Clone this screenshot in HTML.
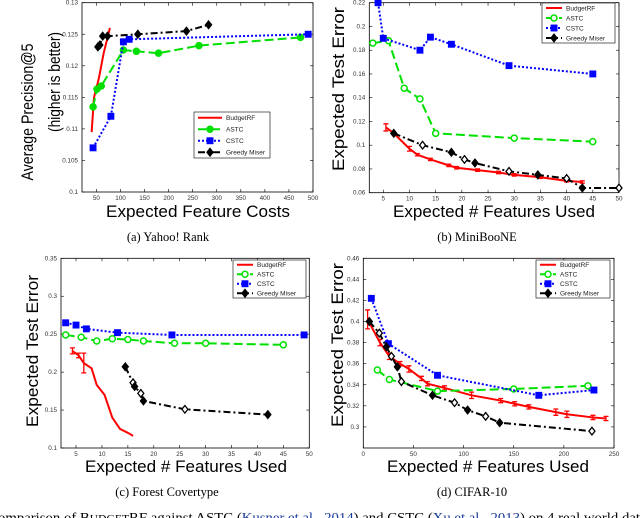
<!DOCTYPE html>
<html><head><meta charset="utf-8"><style>
html,body{margin:0;padding:0;background:#fff;overflow:hidden}
svg{display:block}
</style></head><body>
<svg id="fig" width="640" height="518" viewBox="0 0 640 518" xmlns="http://www.w3.org/2000/svg">
<g id="root"></g>
<text x="-2" y="522" font-family="Liberation Serif, serif" font-size="14" textLength="642" lengthAdjust="spacingAndGlyphs">omparison of B<tspan font-size="11">UDGET</tspan>RF against ASTC (<tspan fill="#1a3a9a">Kusner et al., 2014</tspan>) and CSTC (<tspan fill="#1a3a9a">Xu et al., 2013</tspan>) on 4 real world dat</text>
</svg>
<script>
// ---- (a) Yahoo! Rank ----
const aXTicks=[50,100,150,200,250,300,350,400,450,500];
const aYTicks=[0.1,0.105,0.11,0.115,0.12,0.125,0.13];
const aYLabels=["0.1","0.105","0.11","0.115","0.12","0.125","0.13"];
const aRedX=[40,45,55,65,78];
const aRedY=[0.1095,0.115,0.118,0.122,0.126];
const aGreenX=[43,51,60,106,133,179,263,474];
const aGreenY=[0.1135,0.1163,0.1168,0.1225,0.1223,0.122,0.1232,0.1245];
const aBlueX=[43,80,106,118,490];
const aBlueY=[0.107,0.112,0.1238,0.1242,0.125];
const aBlackX=[53,57,63,73,136,237,283];
const aBlackY=[0.123,0.1233,0.1247,0.1247,0.125,0.1255,0.1265];
// ---- (b) MiniBooNE ----
const bXTicks=[5,10,15,20,25,30,35,40,45,50];
const bYTicks=[0.06,0.08,0.1,0.12,0.14,0.16,0.18,0.2,0.22];
const bYLabels=["0.06","0.08","0.1","0.12","0.14","0.16","0.18","0.2","0.22"];
const bRedX=[5.5,7,10,11.5,14,17.5,19,23,27,30,35,40,43];
const bRedY=[0.115,0.11,0.097,0.092,0.088,0.083,0.081,0.079,0.077,0.075,0.073,0.070,0.069];
const bRedErr=[0.003,0.001,0.002,0.001,0.001,0.001,0.001,0.001,0.001,0.001,0.001,0.001,0.001];
const bGreenX=[3,6,9,12,15,30,45];
const bGreenY=[0.186,0.188,0.148,0.139,0.110,0.106,0.103];
const bBlueX=[4,5,12,14,18,29,45];
const bBlueY=[0.22,0.19,0.18,0.191,0.185,0.167,0.160];
const bBlackX=[7,12.5,18,20.5,22.5,29,34.5,40,43,50];
const bBlackY=[0.11,0.10,0.094,0.088,0.085,0.078,0.075,0.072,0.064,0.064];
// ---- (c) Forest Covertype ----
const cXTicks=[5,10,15,20,25,30,35,40,45,50];
const cYTicks=[0.1,0.15,0.2,0.25,0.3,0.35];
const cYLabels=["0.1","0.15","0.2","0.25","0.3","0.35"];
const cRedX=[4.3,5.5,6.5,8,9,10.5,12,13.5,15,16];
const cRedY=[0.228,0.222,0.212,0.205,0.183,0.17,0.14,0.125,0.12,0.116];
const cRedErr=[0.004,0.003,0.013,0,0,0,0,0,0,0];
const cGreenX=[3,6,9,12,15,18,24,30,45];
const cGreenY=[0.249,0.246,0.241,0.244,0.243,0.241,0.238,0.238,0.236];
const cBlueX=[3,5,7,13,23.5,49];
const cBlueY=[0.265,0.262,0.257,0.252,0.249,0.249];
const cBlackX=[14.5,16,16.3,17.5,18,26,42];
const cBlackY=[0.207,0.186,0.181,0.172,0.162,0.151,0.144];
// ---- (d) CIFAR-10 ----
const dXTicks=[0,50,100,150,200,250];
const dYTicks=[0.3,0.32,0.34,0.36,0.38,0.4,0.42,0.44,0.46];
const dYLabels=["0.3","0.32","0.34","0.36","0.38","0.4","0.42","0.44","0.46"];
const dRedX=[4.3,16.6,26,36.6,45.5,58,64,81,108,137,151,165,192,203,229,242];
const dRedY=[0.402,0.38,0.367,0.36,0.355,0.346,0.341,0.337,0.330,0.325,0.322,0.319,0.314,0.312,0.309,0.308];
const dRedErr=[0.009,0.003,0.003,0.002,0.003,0.002,0.002,0.002,0.003,0.002,0.002,0.002,0.003,0.003,0.002,0.002];
const dGreenX=[14,26,74,150,224];
const dGreenY=[0.354,0.345,0.334,0.336,0.339];
const dBlueX=[8,25,74,175,230];
const dBlueY=[0.422,0.379,0.349,0.330,0.335];
const dBlackX=[6,16,23,28,34,38,69,91,104,122,136,228];
const dBlackY=[0.40,0.389,0.376,0.367,0.357,0.343,0.330,0.323,0.316,0.310,0.304,0.296];

const NS="http://www.w3.org/2000/svg";
const root=document.getElementById('root');
function mk(tag,attrs,parent){const e=document.createElementNS(NS,tag);for(const k in attrs)e.setAttribute(k,attrs[k]);(parent||root).appendChild(e);return e;}

const styles={
 red:{color:"#ff0000",dash:"",marker:null},
 green:{color:"#00e000",dash:"9,4",marker:"circle"},
 blue:{color:"#0000ff",dash:"2,2",marker:"square"},
 black:{color:"#000000",dash:"7,3,2,3",marker:"diamond"}
};

function marker(g,type,x,y,color,fill){
  let e;
  if(type==="circle"){e=mk('circle',{cx:x,cy:y,r:3,fill:fill,stroke:color,'stroke-width':1.5},g);}
  else if(type==="square"){e=mk('rect',{x:x-2.8,y:y-2.8,width:5.6,height:5.6,fill:fill,stroke:color,'stroke-width':1.3},g);}
  else if(type==="diamond"){e=mk('polygon',{points:`${x},${y-3.8} ${x+3},${y} ${x},${y+3.8} ${x-3},${y}`,fill:fill,stroke:color,'stroke-width':1.3},g);}
  
  
}

function plot(p){
  const g=mk('g',{});
  
  
  const sx=v=>p.x0+(v-p.xmin)/(p.xmax-p.xmin)*(p.x1-p.x0);
  const sy=v=>p.y1-(v-p.ymin)/(p.ymax-p.ymin)*(p.y1-p.y0);
  const box=mk('rect',{x:p.x0,y:p.y0,width:p.x1-p.x0,height:p.y1-p.y0,fill:"#fff",stroke:"#000",'stroke-width':0.8},g);
  
  
  p.xticks.forEach(t=>{
    const X=sx(t);
    mk('line',{x1:X,x2:X,y1:p.y1,y2:p.y1-3,stroke:"#000",'stroke-width':0.6},g);
    mk('line',{x1:X,x2:X,y1:p.y0,y2:p.y0+3,stroke:"#000",'stroke-width':0.6},g);
    const tx=mk('text',{x:X,y:p.y1+8,'font-size':6.3,'text-anchor':'middle','font-family':'Liberation Sans, sans-serif',fill:"#333"},g);
    tx.textContent=String(t);
    
    
  });
  p.yticks.forEach((t,i)=>{
    const Y=sy(t);
    mk('line',{x1:p.x0,x2:p.x0+3,y1:Y,y2:Y,stroke:"#000",'stroke-width':0.6},g);
    mk('line',{x1:p.x1,x2:p.x1-3,y1:Y,y2:Y,stroke:"#000",'stroke-width':0.6},g);
    const ty=mk('text',{x:p.x0-4,y:Y+2,'font-size':6.3,'text-anchor':'end','font-family':'Liberation Sans, sans-serif',fill:"#333"},g);
    ty.textContent=p.ylabels[i];
    
    
  });
  p.series.forEach(s=>{
    const st=styles[s.key];
    const pts=s.x.map((v,i)=>sx(v)+","+sy(s.y[i])).join(" ");
    const line=mk('polyline',{points:pts,fill:"none",stroke:st.color,'stroke-width':2,'stroke-dasharray':st.dash,'stroke-linejoin':'round'},g);
    
    
    if(s.err){
      s.x.forEach((v,i)=>{ if(!s.err[i])return;
        const X=sx(v),Ya=sy(s.y[i]-s.err[i]),Yb=sy(s.y[i]+s.err[i]);
        const eb=mk('path',{d:`M${X},${Ya}V${Yb}M${X-2.5},${Ya}H${X+2.5}M${X-2.5},${Yb}H${X+2.5}`,stroke:st.color,'stroke-width':1.3,fill:"none"},g);
        
        
      });
    }
    if(st.marker){
      s.x.forEach((v,i)=>{
        let fill=st.color;
        if(!p.filled){
          if(s.key==="green")fill="#fff";
          else if(s.key==="black")fill=(i%2?"#fff":st.color);
        }
        marker(g,st.marker,sx(v),sy(s.y[i]),st.color,fill);
      });
    }
  });
  const L=p.legend;
  const lg=mk('g',{},g);
  
  
  mk('rect',{x:L.x,y:L.y,width:L.w,height:L.h,fill:"#fff",stroke:"#000",'stroke-width':0.6},lg);
  const names=["BudgetRF","ASTC","CSTC","Greedy Miser"],keys=["red","green","blue","black"];
  const rh=L.h/4;
  keys.forEach((k,i)=>{
    const st=styles[k];const Y=L.y+rh*(i+0.5);
    const ent=mk('g',{},lg);
    
    
    mk('line',{x1:L.x+4,x2:L.x+L.sw,y1:Y,y2:Y,stroke:st.color,'stroke-width':2,'stroke-dasharray':st.dash},ent);
    if(st.marker)marker(ent,st.marker,L.x+4+(L.sw-4)/2,Y,st.color,k==="green"&&!p.filled?"#fff":st.color);
    const t=mk('text',{x:L.x+L.sw+4,y:Y+2.3,'font-size':6.5,'font-family':'Liberation Sans, sans-serif',fill:"#222"},ent);
    t.textContent=names[i];
  });
  const xt=mk('text',{x:p.xt[0],y:p.xt[1],'font-size':17,'text-anchor':'middle','font-family':'Liberation Sans, sans-serif',textLength:p.xt[2],lengthAdjust:'spacingAndGlyphs'},g);
  xt.textContent=p.xtitle;
  
  
  p.ytitles.forEach(yt=>{
    const t=mk('text',{transform:`translate(${yt[0]},${yt[1]}) rotate(-90)`,'font-size':17,'text-anchor':'middle','font-family':'Liberation Sans, sans-serif',textLength:yt[2],lengthAdjust:'spacingAndGlyphs'},g);
    t.textContent=yt[3];
    
    
  });
  const cap=mk('text',{x:p.cap[0],y:p.cap[1],'font-size':12.5,'text-anchor':'middle','font-family':'Liberation Serif, serif'},g);
  cap.textContent=p.caption;
  
  
}

plot({name:'subplot-yahoo-rank',x0:82,x1:313,y0:2.7,y1:192,xmin:20,xmax:500,ymin:0.1,ymax:0.13,
  xticks:aXTicks,yticks:aYTicks,ylabels:aYLabels,filled:true,
  series:[{key:'red',x:aRedX,y:aRedY},{key:'green',x:aGreenX,y:aGreenY},{key:'blue',x:aBlueX,y:aBlueY},{key:'black',x:aBlackX,y:aBlackY}],
  legend:{x:194,y:112,w:76,h:46,sw:28},
  xtitle:'Expected Feature Costs',xt:[198,217,184],
  ytitles:[[33,112,137,'Average Precision@5'],[60,82,100,'(higher is better)']],
  caption:'(a) Yahoo! Rank',cap:[168,241]});
plot({name:'subplot-miniboone',x0:369.3,x1:619,y0:2.7,y1:192.7,xmin:2.33,xmax:50,ymin:0.06,ymax:0.22,
  xticks:bXTicks,yticks:bYTicks,ylabels:bYLabels,filled:false,
  series:[{key:'red',x:bRedX,y:bRedY,err:bRedErr},{key:'green',x:bGreenX,y:bGreenY},{key:'blue',x:bBlueX,y:bBlueY},{key:'black',x:bBlackX,y:bBlackY}],
  legend:{x:542,y:3,w:73,h:40,sw:20},
  xtitle:'Expected # Features Used',xt:[494,217,202],
  ytitles:[[344,89,164,'Expected Test Error']],
  caption:'(b) MiniBooNE',cap:[477,241]});
plot({name:'subplot-forest-covertype',x0:61,x1:309.3,y0:258.3,y1:448,xmin:2.1,xmax:50,ymin:0.1,ymax:0.35,
  xticks:cXTicks,yticks:cYTicks,ylabels:cYLabels,filled:false,
  series:[{key:'red',x:cRedX,y:cRedY,err:cRedErr},{key:'green',x:cGreenX,y:cGreenY},{key:'blue',x:cBlueX,y:cBlueY},{key:'black',x:cBlackX,y:cBlackY}],
  legend:{x:233,y:260,w:73,h:38,sw:20},
  xtitle:'Expected # Features Used',xt:[186,472,202],
  ytitles:[[38,351,152,'Expected Test Error']],
  caption:'(c) Forest Covertype',cap:[167,496]});
plot({name:'subplot-cifar10',x0:363.3,x1:614,y0:258.3,y1:448,xmin:0,xmax:250,ymin:0.28,ymax:0.46,
  xticks:dXTicks,yticks:dYTicks,ylabels:dYLabels,filled:false,
  series:[{key:'red',x:dRedX,y:dRedY,err:dRedErr},{key:'green',x:dGreenX,y:dGreenY},{key:'blue',x:dBlueX,y:dBlueY},{key:'black',x:dBlackX,y:dBlackY}],
  legend:{x:536,y:260,w:74,h:38,sw:20},
  xtitle:'Expected # Features Used',xt:[488,472,202],
  ytitles:[[343,345,164,'Expected Test Error']],
  caption:'(d) CIFAR-10',cap:[472,496]});
</script>
</body></html>
